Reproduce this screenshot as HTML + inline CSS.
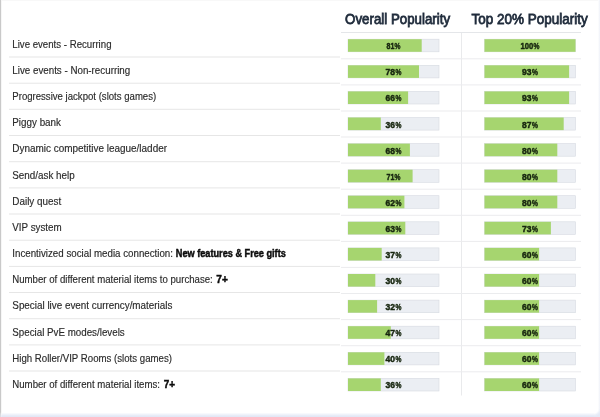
<!DOCTYPE html>
<html><head><meta charset="utf-8"><title>Popularity</title>
<style>
html,body{margin:0;padding:0;}
body{width:600px;height:417px;overflow:hidden;background:#fff;position:relative;font-family:"Liberation Sans",sans-serif;}
.bot{position:absolute;left:0;top:412.5px;width:600px;height:4.5px;background:linear-gradient(#fbfcfe 0%,#e3e9f6 75%,#e1e7f5 100%);}
.rgt{position:absolute;left:597.5px;top:0;width:2.5px;height:417px;background:linear-gradient(90deg,#fff,#eef1f8);}
.card{position:absolute;left:594px;top:409px;width:6px;height:8px;background:radial-gradient(circle at 0 0,#fff 4px,#eaeff8 6px,#e3e9f6 7.5px);}
.ledge{position:absolute;left:0;top:0;width:2px;height:417px;background:linear-gradient(90deg,#c9c9c9 0,#c9c9c9 1px,#f1f1f1 1px,#fbfbfb 2px);-webkit-mask-image:linear-gradient(#000 0,#000 412px,rgba(0,0,0,.35) 416px);}
.tedge{position:absolute;left:1px;top:0;width:597px;height:1px;background:#f8f8f8;}
svg{position:absolute;left:0;top:0;}
.lbl{font-size:10.4px;fill:#2a2a2a;stroke:#2a2a2a;stroke-width:0.15px;}
.b{font-size:10.4px;font-weight:bold;fill:#0c0c0c;stroke:#0c0c0c;stroke-width:0.45px;}
.hd{font-size:14.6px;fill:#1f2b3b;stroke:#1f2b3b;stroke-width:0.8px;}
.pc{font-size:8.6px;font-weight:bold;fill:#17260f;stroke:#17260f;stroke-width:0.45px;}
</style></head><body>
<div class="bot"></div><div class="rgt"></div><div class="card"></div><div class="tedge"></div><div class="ledge"></div>
<svg width="600" height="417" viewBox="0 0 600 417">

<text class="hd" x="345.1" y="23.5" textLength="105" lengthAdjust="spacingAndGlyphs">Overall Popularity</text>
<text class="hd" x="471.6" y="23.5" textLength="116.2" lengthAdjust="spacingAndGlyphs">Top 20% Popularity</text>
<rect x="341" y="32" width="240" height="1" fill="#e4e6e9"/>
<rect x="461" y="33" width="1" height="362.5" fill="#e9eaec"/>
<text class="lbl" x="12.3" y="47.7" textLength="99.2" lengthAdjust="spacingAndGlyphs">Live events - Recurring</text>
<rect x="9" y="56.5" width="331" height="1" fill="#e6e6e6"/>
<rect x="341" y="58.3" width="240" height="1" fill="#ebecee"/>
<rect x="348" y="39.2" width="91" height="12.6" fill="#ebeef3" stroke="#d6dae1" stroke-width="0.6"/>
<rect x="348" y="39.2" width="73.7" height="12.6" fill="#a6d56f"/>
<text class="pc" y="49.2"><tspan x="386.5" textLength="7.8" lengthAdjust="spacingAndGlyphs">81</tspan><tspan x="394.6" textLength="5.9" lengthAdjust="spacingAndGlyphs">%</tspan></text>
<rect x="484.5" y="39.2" width="91" height="12.6" fill="#ebeef3" stroke="#d6dae1" stroke-width="0.6"/>
<rect x="484.5" y="39.2" width="91.0" height="12.6" fill="#a6d56f"/>
<text class="pc" y="49.2"><tspan x="520.5" textLength="12.8" lengthAdjust="spacingAndGlyphs">100</tspan><tspan x="533.6" textLength="5.9" lengthAdjust="spacingAndGlyphs">%</tspan></text>
<text class="lbl" x="12.3" y="73.9" textLength="117.9" lengthAdjust="spacingAndGlyphs">Live events - Non-recurring</text>
<rect x="9" y="82.7" width="331" height="1" fill="#e6e6e6"/>
<rect x="341" y="84.4" width="240" height="1" fill="#ebecee"/>
<rect x="348" y="65.3" width="91" height="12.6" fill="#ebeef3" stroke="#d6dae1" stroke-width="0.6"/>
<rect x="348" y="65.3" width="71.0" height="12.6" fill="#a6d56f"/>
<text class="pc" y="75.3"><tspan x="385.6" textLength="9.5" lengthAdjust="spacingAndGlyphs">78</tspan><tspan x="395.4" textLength="5.9" lengthAdjust="spacingAndGlyphs">%</tspan></text>
<rect x="484.5" y="65.3" width="91" height="12.6" fill="#ebeef3" stroke="#d6dae1" stroke-width="0.6"/>
<rect x="484.5" y="65.3" width="84.6" height="12.6" fill="#a6d56f"/>
<text class="pc" y="75.3"><tspan x="522.1" textLength="9.5" lengthAdjust="spacingAndGlyphs">93</tspan><tspan x="531.9" textLength="5.9" lengthAdjust="spacingAndGlyphs">%</tspan></text>
<text class="lbl" x="12.3" y="100.0" textLength="143.9" lengthAdjust="spacingAndGlyphs">Progressive jackpot (slots games)</text>
<rect x="9" y="108.8" width="331" height="1" fill="#e6e6e6"/>
<rect x="341" y="110.5" width="240" height="1" fill="#ebecee"/>
<rect x="348" y="91.4" width="91" height="12.6" fill="#ebeef3" stroke="#d6dae1" stroke-width="0.6"/>
<rect x="348" y="91.4" width="60.1" height="12.6" fill="#a6d56f"/>
<text class="pc" y="101.4"><tspan x="385.6" textLength="9.5" lengthAdjust="spacingAndGlyphs">66</tspan><tspan x="395.4" textLength="5.9" lengthAdjust="spacingAndGlyphs">%</tspan></text>
<rect x="484.5" y="91.4" width="91" height="12.6" fill="#ebeef3" stroke="#d6dae1" stroke-width="0.6"/>
<rect x="484.5" y="91.4" width="84.6" height="12.6" fill="#a6d56f"/>
<text class="pc" y="101.4"><tspan x="522.1" textLength="9.5" lengthAdjust="spacingAndGlyphs">93</tspan><tspan x="531.9" textLength="5.9" lengthAdjust="spacingAndGlyphs">%</tspan></text>
<text class="lbl" x="12.3" y="126.2" textLength="48.7" lengthAdjust="spacingAndGlyphs">Piggy bank</text>
<rect x="9" y="135.0" width="331" height="1" fill="#e6e6e6"/>
<rect x="341" y="136.5" width="240" height="1" fill="#ebecee"/>
<rect x="348" y="117.5" width="91" height="12.6" fill="#ebeef3" stroke="#d6dae1" stroke-width="0.6"/>
<rect x="348" y="117.5" width="32.8" height="12.6" fill="#a6d56f"/>
<text class="pc" y="127.5"><tspan x="385.6" textLength="9.5" lengthAdjust="spacingAndGlyphs">36</tspan><tspan x="395.4" textLength="5.9" lengthAdjust="spacingAndGlyphs">%</tspan></text>
<rect x="484.5" y="117.5" width="91" height="12.6" fill="#ebeef3" stroke="#d6dae1" stroke-width="0.6"/>
<rect x="484.5" y="117.5" width="79.2" height="12.6" fill="#a6d56f"/>
<text class="pc" y="127.5"><tspan x="522.1" textLength="9.5" lengthAdjust="spacingAndGlyphs">87</tspan><tspan x="531.9" textLength="5.9" lengthAdjust="spacingAndGlyphs">%</tspan></text>
<text class="lbl" x="12.3" y="152.4" textLength="154.7" lengthAdjust="spacingAndGlyphs">Dynamic competitive league/ladder</text>
<rect x="9" y="161.2" width="331" height="1" fill="#e6e6e6"/>
<rect x="341" y="162.6" width="240" height="1" fill="#ebecee"/>
<rect x="348" y="143.6" width="91" height="12.6" fill="#ebeef3" stroke="#d6dae1" stroke-width="0.6"/>
<rect x="348" y="143.6" width="61.9" height="12.6" fill="#a6d56f"/>
<text class="pc" y="153.6"><tspan x="385.6" textLength="9.5" lengthAdjust="spacingAndGlyphs">68</tspan><tspan x="395.4" textLength="5.9" lengthAdjust="spacingAndGlyphs">%</tspan></text>
<rect x="484.5" y="143.6" width="91" height="12.6" fill="#ebeef3" stroke="#d6dae1" stroke-width="0.6"/>
<rect x="484.5" y="143.6" width="72.8" height="12.6" fill="#a6d56f"/>
<text class="pc" y="153.6"><tspan x="522.1" textLength="9.5" lengthAdjust="spacingAndGlyphs">80</tspan><tspan x="531.9" textLength="5.9" lengthAdjust="spacingAndGlyphs">%</tspan></text>
<text class="lbl" x="12.3" y="178.6" textLength="62.4" lengthAdjust="spacingAndGlyphs">Send/ask help</text>
<rect x="9" y="187.4" width="331" height="1" fill="#e6e6e6"/>
<rect x="341" y="188.7" width="240" height="1" fill="#ebecee"/>
<rect x="348" y="169.7" width="91" height="12.6" fill="#ebeef3" stroke="#d6dae1" stroke-width="0.6"/>
<rect x="348" y="169.7" width="64.6" height="12.6" fill="#a6d56f"/>
<text class="pc" y="179.7"><tspan x="386.5" textLength="7.8" lengthAdjust="spacingAndGlyphs">71</tspan><tspan x="394.6" textLength="5.9" lengthAdjust="spacingAndGlyphs">%</tspan></text>
<rect x="484.5" y="169.7" width="91" height="12.6" fill="#ebeef3" stroke="#d6dae1" stroke-width="0.6"/>
<rect x="484.5" y="169.7" width="72.8" height="12.6" fill="#a6d56f"/>
<text class="pc" y="179.7"><tspan x="522.1" textLength="9.5" lengthAdjust="spacingAndGlyphs">80</tspan><tspan x="531.9" textLength="5.9" lengthAdjust="spacingAndGlyphs">%</tspan></text>
<text class="lbl" x="12.3" y="204.7" textLength="48.9" lengthAdjust="spacingAndGlyphs">Daily quest</text>
<rect x="9" y="213.5" width="331" height="1" fill="#e6e6e6"/>
<rect x="341" y="214.8" width="240" height="1" fill="#ebecee"/>
<rect x="348" y="195.7" width="91" height="12.6" fill="#ebeef3" stroke="#d6dae1" stroke-width="0.6"/>
<rect x="348" y="195.7" width="56.4" height="12.6" fill="#a6d56f"/>
<text class="pc" y="205.7"><tspan x="385.6" textLength="9.5" lengthAdjust="spacingAndGlyphs">62</tspan><tspan x="395.4" textLength="5.9" lengthAdjust="spacingAndGlyphs">%</tspan></text>
<rect x="484.5" y="195.7" width="91" height="12.6" fill="#ebeef3" stroke="#d6dae1" stroke-width="0.6"/>
<rect x="484.5" y="195.7" width="72.8" height="12.6" fill="#a6d56f"/>
<text class="pc" y="205.7"><tspan x="522.1" textLength="9.5" lengthAdjust="spacingAndGlyphs">80</tspan><tspan x="531.9" textLength="5.9" lengthAdjust="spacingAndGlyphs">%</tspan></text>
<text class="lbl" x="12.3" y="230.9" textLength="49.4" lengthAdjust="spacingAndGlyphs">VIP system</text>
<rect x="9" y="239.7" width="331" height="1" fill="#e6e6e6"/>
<rect x="341" y="240.9" width="240" height="1" fill="#ebecee"/>
<rect x="348" y="221.8" width="91" height="12.6" fill="#ebeef3" stroke="#d6dae1" stroke-width="0.6"/>
<rect x="348" y="221.8" width="57.3" height="12.6" fill="#a6d56f"/>
<text class="pc" y="231.8"><tspan x="385.6" textLength="9.5" lengthAdjust="spacingAndGlyphs">63</tspan><tspan x="395.4" textLength="5.9" lengthAdjust="spacingAndGlyphs">%</tspan></text>
<rect x="484.5" y="221.8" width="91" height="12.6" fill="#ebeef3" stroke="#d6dae1" stroke-width="0.6"/>
<rect x="484.5" y="221.8" width="66.4" height="12.6" fill="#a6d56f"/>
<text class="pc" y="231.8"><tspan x="522.1" textLength="9.5" lengthAdjust="spacingAndGlyphs">73</tspan><tspan x="531.9" textLength="5.9" lengthAdjust="spacingAndGlyphs">%</tspan></text>
<text class="lbl" x="12.3" y="257.1" textLength="160.7" lengthAdjust="spacingAndGlyphs">Incentivized social media connection:</text>
<text class="b" x="175.8" y="257.1" textLength="110.0" lengthAdjust="spacingAndGlyphs">New features &amp; Free gifts</text>
<rect x="9" y="265.9" width="331" height="1" fill="#e6e6e6"/>
<rect x="341" y="266.9" width="240" height="1" fill="#ebecee"/>
<rect x="348" y="247.9" width="91" height="12.6" fill="#ebeef3" stroke="#d6dae1" stroke-width="0.6"/>
<rect x="348" y="247.9" width="33.7" height="12.6" fill="#a6d56f"/>
<text class="pc" y="257.9"><tspan x="385.6" textLength="9.5" lengthAdjust="spacingAndGlyphs">37</tspan><tspan x="395.4" textLength="5.9" lengthAdjust="spacingAndGlyphs">%</tspan></text>
<rect x="484.5" y="247.9" width="91" height="12.6" fill="#ebeef3" stroke="#d6dae1" stroke-width="0.6"/>
<rect x="484.5" y="247.9" width="54.6" height="12.6" fill="#a6d56f"/>
<text class="pc" y="257.9"><tspan x="522.1" textLength="9.5" lengthAdjust="spacingAndGlyphs">60</tspan><tspan x="531.9" textLength="5.9" lengthAdjust="spacingAndGlyphs">%</tspan></text>
<text class="lbl" x="12.3" y="283.2" textLength="200.5" lengthAdjust="spacingAndGlyphs">Number of different material items to purchase:</text>
<text class="b" x="216.3" y="283.2" textLength="11.5" lengthAdjust="spacingAndGlyphs">7+</text>
<rect x="9" y="292.0" width="331" height="1" fill="#e6e6e6"/>
<rect x="341" y="293.0" width="240" height="1" fill="#ebecee"/>
<rect x="348" y="274.0" width="91" height="12.6" fill="#ebeef3" stroke="#d6dae1" stroke-width="0.6"/>
<rect x="348" y="274.0" width="27.3" height="12.6" fill="#a6d56f"/>
<text class="pc" y="284.0"><tspan x="385.6" textLength="9.5" lengthAdjust="spacingAndGlyphs">30</tspan><tspan x="395.4" textLength="5.9" lengthAdjust="spacingAndGlyphs">%</tspan></text>
<rect x="484.5" y="274.0" width="91" height="12.6" fill="#ebeef3" stroke="#d6dae1" stroke-width="0.6"/>
<rect x="484.5" y="274.0" width="54.6" height="12.6" fill="#a6d56f"/>
<text class="pc" y="284.0"><tspan x="522.1" textLength="9.5" lengthAdjust="spacingAndGlyphs">60</tspan><tspan x="531.9" textLength="5.9" lengthAdjust="spacingAndGlyphs">%</tspan></text>
<text class="lbl" x="12.3" y="309.4" textLength="160.1" lengthAdjust="spacingAndGlyphs">Special live event currency/materials</text>
<rect x="9" y="318.2" width="331" height="1" fill="#e6e6e6"/>
<rect x="341" y="319.1" width="240" height="1" fill="#ebecee"/>
<rect x="348" y="300.1" width="91" height="12.6" fill="#ebeef3" stroke="#d6dae1" stroke-width="0.6"/>
<rect x="348" y="300.1" width="29.1" height="12.6" fill="#a6d56f"/>
<text class="pc" y="310.1"><tspan x="385.6" textLength="9.5" lengthAdjust="spacingAndGlyphs">32</tspan><tspan x="395.4" textLength="5.9" lengthAdjust="spacingAndGlyphs">%</tspan></text>
<rect x="484.5" y="300.1" width="91" height="12.6" fill="#ebeef3" stroke="#d6dae1" stroke-width="0.6"/>
<rect x="484.5" y="300.1" width="54.6" height="12.6" fill="#a6d56f"/>
<text class="pc" y="310.1"><tspan x="522.1" textLength="9.5" lengthAdjust="spacingAndGlyphs">60</tspan><tspan x="531.9" textLength="5.9" lengthAdjust="spacingAndGlyphs">%</tspan></text>
<text class="lbl" x="12.3" y="335.6" textLength="112.4" lengthAdjust="spacingAndGlyphs">Special PvE modes/levels</text>
<rect x="9" y="344.4" width="331" height="1" fill="#e6e6e6"/>
<rect x="341" y="345.2" width="240" height="1" fill="#ebecee"/>
<rect x="348" y="326.2" width="91" height="12.6" fill="#ebeef3" stroke="#d6dae1" stroke-width="0.6"/>
<rect x="348" y="326.2" width="42.8" height="12.6" fill="#a6d56f"/>
<text class="pc" y="336.2"><tspan x="385.6" textLength="9.5" lengthAdjust="spacingAndGlyphs">47</tspan><tspan x="395.4" textLength="5.9" lengthAdjust="spacingAndGlyphs">%</tspan></text>
<rect x="484.5" y="326.2" width="91" height="12.6" fill="#ebeef3" stroke="#d6dae1" stroke-width="0.6"/>
<rect x="484.5" y="326.2" width="54.6" height="12.6" fill="#a6d56f"/>
<text class="pc" y="336.2"><tspan x="522.1" textLength="9.5" lengthAdjust="spacingAndGlyphs">60</tspan><tspan x="531.9" textLength="5.9" lengthAdjust="spacingAndGlyphs">%</tspan></text>
<text class="lbl" x="12.3" y="361.7" textLength="159.7" lengthAdjust="spacingAndGlyphs">High Roller/VIP Rooms (slots games)</text>
<rect x="9" y="370.5" width="331" height="1" fill="#e6e6e6"/>
<rect x="341" y="371.3" width="240" height="1" fill="#ebecee"/>
<rect x="348" y="352.3" width="91" height="12.6" fill="#ebeef3" stroke="#d6dae1" stroke-width="0.6"/>
<rect x="348" y="352.3" width="36.4" height="12.6" fill="#a6d56f"/>
<text class="pc" y="362.3"><tspan x="385.6" textLength="9.5" lengthAdjust="spacingAndGlyphs">40</tspan><tspan x="395.4" textLength="5.9" lengthAdjust="spacingAndGlyphs">%</tspan></text>
<rect x="484.5" y="352.3" width="91" height="12.6" fill="#ebeef3" stroke="#d6dae1" stroke-width="0.6"/>
<rect x="484.5" y="352.3" width="54.6" height="12.6" fill="#a6d56f"/>
<text class="pc" y="362.3"><tspan x="522.1" textLength="9.5" lengthAdjust="spacingAndGlyphs">60</tspan><tspan x="531.9" textLength="5.9" lengthAdjust="spacingAndGlyphs">%</tspan></text>
<text class="lbl" x="12.3" y="387.9" textLength="147.7" lengthAdjust="spacingAndGlyphs">Number of different material items:</text>
<text class="b" x="163.7" y="387.9" textLength="11.3" lengthAdjust="spacingAndGlyphs">7+</text>
<rect x="348" y="378.4" width="91" height="12.6" fill="#ebeef3" stroke="#d6dae1" stroke-width="0.6"/>
<rect x="348" y="378.4" width="32.8" height="12.6" fill="#a6d56f"/>
<text class="pc" y="388.4"><tspan x="385.6" textLength="9.5" lengthAdjust="spacingAndGlyphs">36</tspan><tspan x="395.4" textLength="5.9" lengthAdjust="spacingAndGlyphs">%</tspan></text>
<rect x="484.5" y="378.4" width="91" height="12.6" fill="#ebeef3" stroke="#d6dae1" stroke-width="0.6"/>
<rect x="484.5" y="378.4" width="54.6" height="12.6" fill="#a6d56f"/>
<text class="pc" y="388.4"><tspan x="522.1" textLength="9.5" lengthAdjust="spacingAndGlyphs">60</tspan><tspan x="531.9" textLength="5.9" lengthAdjust="spacingAndGlyphs">%</tspan></text>
</svg></body></html>
